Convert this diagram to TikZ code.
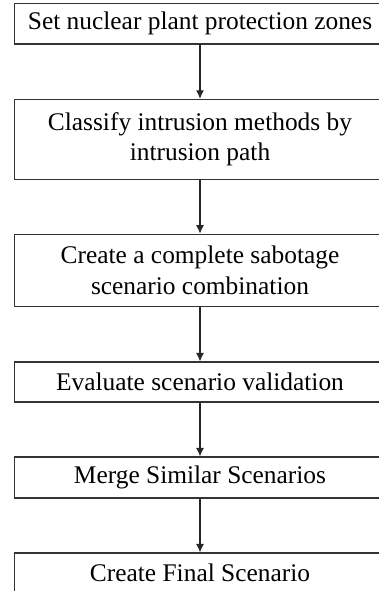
\documentclass[tikz,border=0pt]{standalone}
\usepackage{fontspec}
\setmainfont{Liberation Serif}
\usetikzlibrary{arrows.meta}
\begin{document}
\begin{tikzpicture}[x=1pt,y=-1pt,
  stepbox/.style={draw=black!80, line width=1.2pt, minimum width=371pt, inner sep=0pt, align=center,
    font=\fontsize{25.4}{30.5}\selectfont},
  conn/.style={draw=black!85, line width=1.1pt, -{Latex[length=8.5pt,width=8pt]}}]
\useasboundingbox (0,0) rectangle (379,591);
\clip (0,0) rectangle (379,591);
\node[stepbox, minimum height=40.5pt] (b1) at (200,23.75) {Set nuclear plant protection zones};
\node[stepbox, minimum height=80pt] (b2) at (200,139.4) {Classify intrusion methods by\\intrusion path};
\node[stepbox, minimum height=72pt] (b3) at (200,270.2) {Create a complete sabotage\\scenario combination};
\node[stepbox, minimum height=40pt] (b4) at (200,382) {Evaluate scenario validation};
\node[stepbox, minimum height=41pt] (b5) at (200,477.5) {Merge Similar Scenarios};
\node[stepbox, minimum height=40pt] (b6) at (200,573) {Create Final Scenario};
\draw[conn] (b1.south) -- (b2.north);
\draw[conn] (b2.south) -- (b3.north);
\draw[conn] (b3.south) -- (b4.north);
\draw[conn] (b4.south) -- (b5.north);
\draw[conn] (b5.south) -- (b6.north);
\end{tikzpicture}
\end{document}
